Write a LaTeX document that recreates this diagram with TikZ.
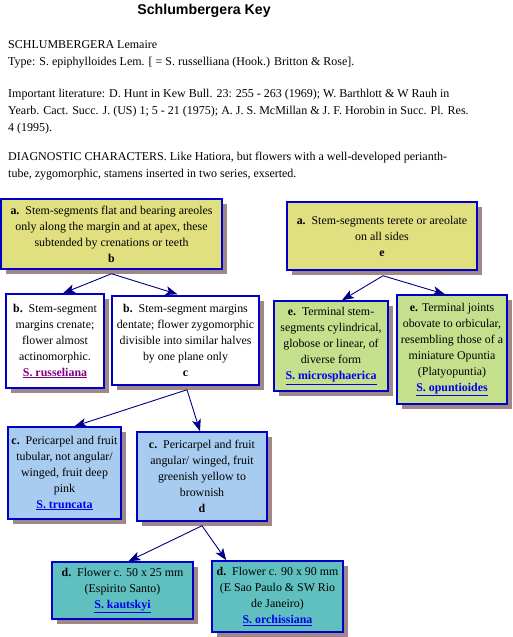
\documentclass[tikz,border=0pt]{standalone}
\usepackage{fontspec}
\setmainfont{Liberation Serif}
\newfontfamily\titlefont{Liberation Sans}
\usepackage{tikz}
\usetikzlibrary{positioning,arrows.meta,shadows,calc}
\definecolor{keyyellow}{HTML}{E0E080}
\definecolor{keygreen}{HTML}{C4E08C}
\definecolor{keyblue}{HTML}{A8CCF0}
\definecolor{keyteal}{HTML}{60C0C0}
\definecolor{keyshadow}{HTML}{A08888}
\definecolor{keyborder}{HTML}{0000C8}
\definecolor{keyline}{HTML}{000080}
\definecolor{linkblue}{HTML}{0000EE}
\definecolor{linkpurple}{HTML}{800080}
\newcommand{\keylink}[2][linkblue]{\textcolor{#1}{\underline{\textbf{#2}}}}
\tikzset{
  keybox/.style={draw=keyborder,line width=1.5pt,fill=white,align=center,
            font=\fontsize{11.9}{16}\selectfont,inner sep=2pt,
            drop shadow={shadow xshift=5pt,shadow yshift=-5pt,fill=keyshadow,opacity=1}},
  leadbox/.style={keybox,fill=keyyellow},
  splitbox/.style={keybox,fill=white},
  greenbox/.style={keybox,fill=keygreen},
  bluebox/.style={keybox,fill=keyblue},
  tealbox/.style={keybox,fill=keyteal},
  keyarrow/.style={-{Stealth[length=12pt,width=9pt,inset=3pt]},line width=0.9pt,keyline},
  headtext/.style={anchor=base west,align=left,inner sep=0pt,
            font=\fontsize{12}{17}\selectfont},
}

\begin{document}
\begin{tikzpicture}[x=1pt,y=-1pt]
  \useasboundingbox (0,0) rectangle (512,637);
  % heading
  \node[font=\titlefont\bfseries\fontsize{14.2}{16}\selectfont] (title) at (204,10.5) {Schlumbergera Key};
  \node[headtext] (genus) at (8,65.5) {SCHLUMBERGERA Lemaire\\
    Type: S. epiphylloides Lem. [ = S. russelliana (Hook.) Britton \& Rose].};
  \node[headtext] (lit) at (8,131) {Important literature: D. Hunt in Kew Bull. 23: 255 - 263 (1969); W. Barthlott \& W Rauh in\\
    Yearb. Cact. Succ. J. (US) 1; 5 - 21 (1975); A. J. S. McMillan \& J. F. Horobin in Succ. Pl. Res.\\
    4 (1995).};
  \node[headtext] (diag) at (8,177.5) {DIAGNOSTIC CHARACTERS. Like Hatiora, but flowers with a well-developed perianth-\\
    tube, zygomorphic, stamens inserted in two series, exserted.};

  % couplet a
  \node[leadbox,minimum width=221,minimum height=70] (a1) at (111.5,234)
    {\textbf{a.}\enspace Stem-segments flat and bearing areoles\\only along the margin and at apex, these\\subtended by crenations or teeth\\\textbf{b}};
  \node[leadbox,minimum width=190,minimum height=68] (a2) at (382,236)
    {\textbf{a.}\enspace Stem-segments terete or areolate\\on all sides\\\textbf{e}};

  % couplet b
  \node[splitbox,minimum width=98,minimum height=94] (b1) at (55,341)
    {\textbf{b.}\enspace Stem-segment\\margins crenate;\\flower almost\\actinomorphic.\\\keylink[linkpurple]{S. russeliana}};
  \node[splitbox,minimum width=147,minimum height=89] (b2) at (185.5,340.5)
    {\textbf{b.}\enspace Stem-segment margins\\dentate; flower zygomorphic\\divisible into similar halves\\by one plane only\\\textbf{c}};

  % couplet e
  \node[greenbox,minimum width=114,minimum height=90] (e1) at (331,346)
    {\textbf{e.}\enspace Terminal stem-\\segments cylindrical,\\globose or linear, of\\diverse form\\\keylink{S. microsphaerica}};
  \node[greenbox,minimum width=110,minimum height=109] (e2) at (452,349.5)
    {\textbf{e.} Terminal joints\\obovate to orbicular,\\resembling those of a\\miniature Opuntia\\(Platyopuntia)\\\keylink{S. opuntioides}};

  % couplet c
  \node[bluebox,minimum width=113,minimum height=92] (c1) at (64.5,473)
    {\textbf{c.}\enspace Pericarpel and fruit\\tubular, not angular/\\winged, fruit deep\\pink\\\keylink{S. truncata}};
  \node[bluebox,minimum width=130,minimum height=89] (c2) at (202,476.5)
    {\textbf{c.}\enspace Pericarpel and fruit\\angular/ winged, fruit\\greenish yellow to\\brownish\\\textbf{d}};

  % couplet d
  \node[tealbox,minimum width=141,minimum height=57] (d1) at (122.5,590.5)
    {\textbf{d.}\enspace Flower c. 50 x 25 mm\\(Espirito Santo)\\\keylink{S. kautskyi}};
  \node[tealbox,minimum width=131,minimum height=71] (d2) at (277.5,596.5)
    {\textbf{d.}\enspace Flower c. 90 x 90 mm\\(E Sao Paulo \& SW Rio\\de Janeiro)\\\keylink{S. orchissiana}};

  % connectors
  \coordinate (bfork) at ($(a1.south)+(0,4)$);
  \coordinate (efork) at ($(a2.south)+(1,5)$);
  \coordinate (cfork) at ($(b2.south)+(1.5,4)$);
  \coordinate (dfork) at ($(c2.south)+(0,4)$);
  \draw[keyarrow] (bfork) -- ($(b1.north)+(8,0)$);
  \draw[keyarrow] (bfork) -- ($(b2.north)+(-8,-1)$);
  \draw[keyarrow] (efork) -- ($(e1.north)+(11,0)$);
  \draw[keyarrow] (efork) -- ($(e2.north)+(-7,0)$);
  \draw[keyarrow] (cfork) -- ($(c1.north)+(10,0)$);
  \draw[keyarrow] (cfork) -- ($(c2.north)+(-2,0)$);
  \draw[keyarrow] (dfork) -- ($(d1.north)+(6,0)$);
  \draw[keyarrow] (dfork) -- ($(d2.north west)+(15,0)$);
\end{tikzpicture}
\end{document}
